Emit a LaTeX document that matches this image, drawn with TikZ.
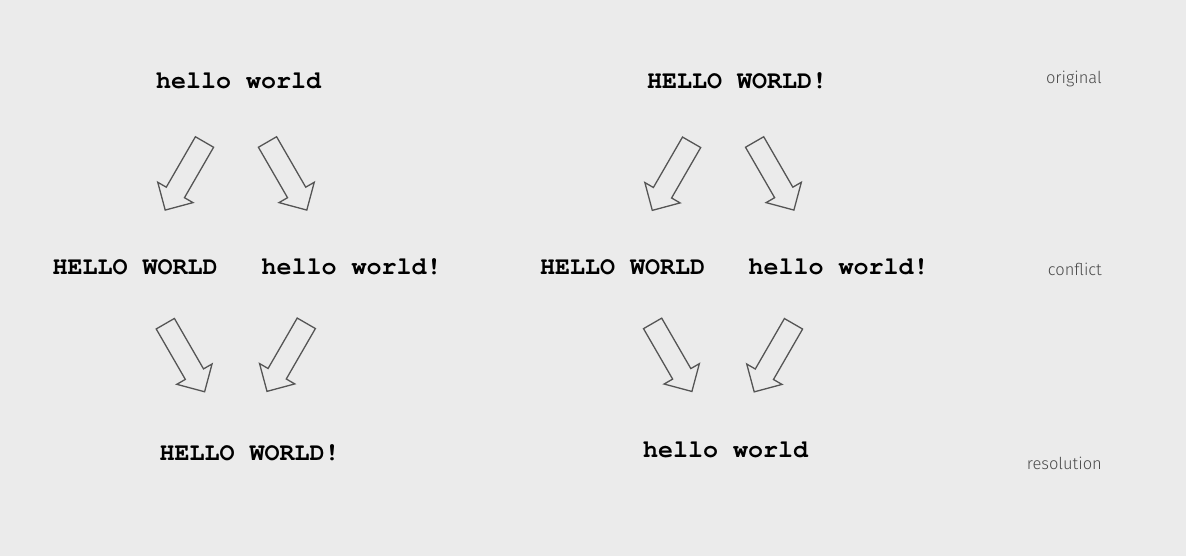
\documentclass[tikz,border=0pt]{standalone}
\usepackage{fontspec}
\usepackage[T1,TU]{fontenc}
\newfontfamily\lblfont{Fira Sans Light}
\usetikzlibrary{shapes.arrows}
\definecolor{bgc}{HTML}{EBEBEB}
\definecolor{arrowc}{HTML}{555555}
\definecolor{lblc}{HTML}{4A4A4A}
\newcommand{\courbold}{\fontencoding{T1}\fontfamily{pcr}\fontseries{b}\fontshape{n}\fontsize{25}{30}\selectfont}
\tikzset{
  code/.style={inner sep=0pt, anchor=base, text=black, font=\courbold},
  lbl/.style={inner sep=0pt, anchor=base east, text=lblc,
    font=\lblfont\fontsize{16.5}{20}\selectfont},
  bigarrow/.style={single arrow, draw=arrowc, line width=1.3pt, fill=none,
    minimum height=78.6pt, inner xsep=0pt, inner ysep=9.85pt, outer sep=0pt,
    single arrow head extend=9.85pt, single arrow tip angle=90, anchor=tail}
}
\begin{document}
\begin{tikzpicture}[x=1pt,y=-1pt]
\fill[bgc] (0,0) rectangle (1186,556);
\useasboundingbox (0,0) rectangle (1186,556);
% left group
\node[code] (t1) at (238.5,88.3) {hello world};
\node[code] (m1) at (135,274) {HELLO WORLD};
\node[code] (m2) at (351.5,274) {hello world!};
\node[code] (b1) at (249.5,460) {HELLO WORLD!};
\node[bigarrow, rotate=240] (a1) at (204.5,142) {};
\node[bigarrow, rotate=300] (a2) at (267.5,142) {};
\node[bigarrow, rotate=300] (a3) at (165.3,323.7) {};
\node[bigarrow, rotate=240] (a4) at (306.3,323.3) {};
% right group
\node[code] (t2) at (737,88.3) {HELLO WORLD!};
\node[code] (m3) at (622.5,274) {HELLO WORLD};
\node[code] (m4) at (838.5,274) {hello world!};
\node[code] (b2) at (725.5,457.3) {hello world};
\node[bigarrow, rotate=240] (a5) at (691.6,142.3) {};
\node[bigarrow, rotate=300] (a6) at (754.6,142) {};
\node[bigarrow, rotate=300] (a7) at (652.6,323.4) {};
\node[bigarrow, rotate=240] (a8) at (793.5,323.8) {};
% labels
\node[lbl] (l1) at (1102,83.3) {original};
\node[lbl] (l2) at (1102,276) {conflict};
\node[lbl] (l3) at (1102,469) {resolution};
\end{tikzpicture}
\end{document}
